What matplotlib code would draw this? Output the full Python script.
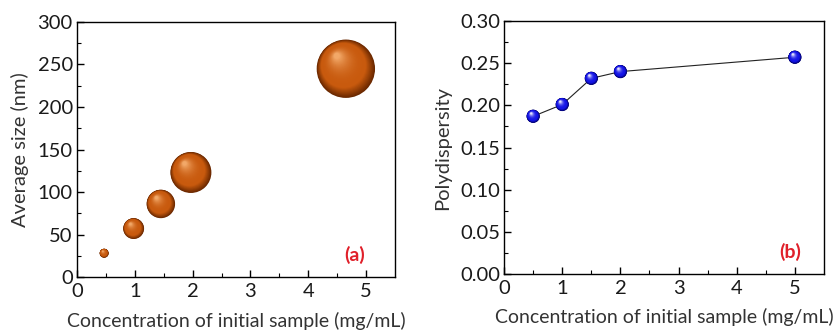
import numpy as np
import matplotlib
matplotlib.use("Agg")
import matplotlib.pyplot as plt
from matplotlib.colors import to_rgb
from matplotlib.transforms import offset_copy

plt.rcParams["font.family"] = ["Lato", "DejaVu Sans"]

# panel (a): average size
conc_a = [0.47, 0.98, 1.45, 1.97, 4.65]
size_nm = [28, 57, 86, 123, 245]

# panel (b): polydispersity
conc_b = [0.5, 1.0, 1.5, 2.0, 5.0]
pdi = [0.187, 0.201, 0.232, 0.240, 0.257]

xlabel = "Concentration of initial sample (mg/mL)"

# bubble diameters in points (visual only)
bubble_pt = [6.5, 15, 20.5, 29.5, 42]


def sphere(ax, fig, x, y, d, rim, body, hi, layers=40):
    rim, body, hi = np.array(to_rgb(rim)), np.array(to_rgb(body)), np.array(to_rgb(hi))
    for t in np.linspace(0, 1, layers):
        if t < 0.25:
            c = rim + (body - rim) * (t / 0.25)
        else:
            c = body + (hi - body) * ((t - 0.25) / 0.75) ** 2.5
        dd = d * (1 - 0.9 * t)
        off = d * 0.22 * t
        tr = offset_copy(ax.transData, fig=fig, x=-off * 0.7, y=off, units="points")
        ax.scatter([x], [y], s=dd ** 2, color=c, edgecolors="none",
                   transform=tr, zorder=3 + t, clip_on=False)


def style_axes(ax):
    for sp in ax.spines.values():
        sp.set_linewidth(1.0)
    ax.tick_params(which="both", direction="in", top=False, right=False,
                   labelsize=14.5, labelcolor="#1a1a1a")
    ax.tick_params(axis="x", pad=4)
    ax.tick_params(axis="y", pad=3)
    ax.tick_params(which="major", length=5, width=1)
    ax.tick_params(which="minor", length=3, width=0.8)


fig = plt.figure(figsize=(8.36, 3.33), dpi=100)

ax1 = fig.add_axes([0.0921, 0.168, 0.3804, 0.766])
for x, y, d in zip(conc_a, size_nm, bubble_pt):
    sphere(ax1, fig, x, y, d, "#6a2800", "#c85a0e", "#f2a868")
ax1.set_xlim(0, 5.5)
ax1.set_ylim(0, 300)
ax1.set_xticks([0, 1, 2, 3, 4, 5])
ax1.set_xticks(np.arange(0.5, 5.5, 1), minor=True)
ax1.set_yticks(np.arange(0, 301, 50))
ax1.set_yticks(np.arange(25, 300, 50), minor=True)
style_axes(ax1)
ax1.set_xlabel(xlabel, fontsize=14, color="#333333", labelpad=9)
ax1.set_ylabel("Average size (nm)", fontsize=14.5, color="#333333", labelpad=6)
ax1.text(0.874, 0.086, "(a)", transform=ax1.transAxes, color="#e0202a",
         fontsize=14, fontweight="bold", ha="center", va="center")

ax2 = fig.add_axes([0.603, 0.177, 0.3826, 0.760])
ax2.plot(conc_b, pdi, color="#222222", lw=0.8, zorder=2)
for x, y in zip(conc_b, pdi):
    sphere(ax2, fig, x, y, 9.5, "#00006a", "#1414e6", "#e8e8ff")
ax2.set_xlim(0, 5.5)
ax2.set_ylim(0, 0.30)
ax2.set_xticks([0, 1, 2, 3, 4, 5])
ax2.set_xticks(np.arange(0.5, 5.5, 1), minor=True)
ax2.set_yticks(np.arange(0, 0.301, 0.05))
ax2.set_yticks(np.arange(0.025, 0.30, 0.05), minor=True)
ax2.set_yticklabels([f"{v:.2f}" for v in np.arange(0, 0.301, 0.05)])
style_axes(ax2)
ax2.set_xlabel(xlabel, fontsize=14, color="#333333", labelpad=8)
ax2.set_ylabel("Polydispersity", fontsize=14.5, color="#333333", labelpad=6)
ax2.text(0.894, 0.087, "(b)", transform=ax2.transAxes, color="#e0202a",
         fontsize=14, fontweight="bold", ha="center", va="center")

fig.savefig("out.png", dpi=100)
